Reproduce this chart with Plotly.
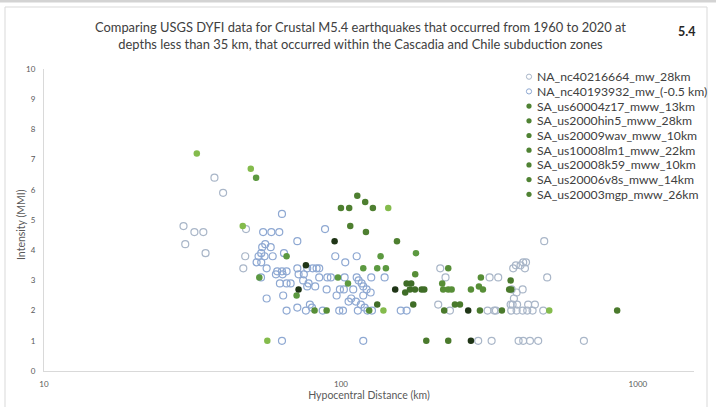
import plotly.graph_objects as go

# ---------------- data ----------------
series_names = [
    "NA_nc40216664_mw_28km",
    "NA_nc40193932_mw_(-0.5 km)",
    "SA_us60004z17_mww_13km",
    "SA_us2000hin5_mww_28km",
    "SA_us20009wav_mww_10km",
    "SA_us10008lm1_mww_22km",
    "SA_us20008k59_mww_10km",
    "SA_us20006v8s_mww_14km",
    "SA_us20003mgp_mww_26km",
]

# NA_nc40216664 (hypocentral distance km, MMI)
na1_dist = [29.5, 32.1, 34.4, 29.9, 35.0, 37.5, 40.1, 47.9, 47.6, 46.9,
            216, 225, 316.7, 212.6, 232.8, 311.8, 328.4, 289.9, 321.7, 483.7,
            411, 420, 402.7, 388.3, 380.3, 416.5, 338.6, 495, 409.2, 390.5,
            382.4, 378.5, 375.6, 332.6, 374.5, 390.5, 409.2, 424, 442, 480,
            372.8, 392, 427, 450, 396.6, 411, 433, 461.6, 658]
na1_mmi = [4.8, 4.6, 4.6, 4.2, 3.9, 6.4, 5.9, 4.7, 3.8, 3.4,
           3.4, 3.1, 3.1, 2.2, 2.0, 2.0, 2.0, 1.0, 1.0, 4.3,
           3.6, 3.6, 3.5, 3.5, 3.4, 3.4, 3.1, 3.1, 2.7, 2.6,
           2.4, 2.2, 2.7, 2.0, 2.0, 2.0, 2.0, 2.0, 2.0, 2.0,
           2.2, 2.2, 2.2, 2.2, 1.0, 1.0, 1.0, 1.0, 1.0]

# NA_nc40193932
na2_dist = [63.3, 54.7, 58.3, 62.0, 71.3, 88.4, 55.6, 54.3, 58.0, 53.9,
            52.8, 55.3, 58.9, 64.3, 52.0, 53.9, 56.2, 61.0, 63.3, 65.6,
            71.3, 77.0, 80.3, 82.8, 84.5, 95.7, 103.4, 113.0, 60.4, 63.6,
            72.0, 75.0, 62.3, 65.6, 67.7, 74.6, 77.8, 84.5, 90.0, 92.5,
            102.9, 113.0, 114.7, 126.5, 140.3, 89.5, 63.9, 56.2, 77.0, 81.9,
            96.7, 99.2, 102.3, 110.0, 118.9, 122.0, 108.3, 106.1, 118.9, 125.9,
            71.3, 65.6, 78.6, 79.9, 76.2, 86.8, 98.7, 101.6, 112.3, 116.7,
            120.2, 114.0, 122.8, 127.2, 159, 166.4, 63.3, 118.9, 117.4, 53.8]
na2_mmi = [5.2, 4.6, 4.6, 4.6, 4.3, 4.7, 4.2, 4.1, 4.1, 3.9,
           3.8, 3.8, 3.8, 3.9, 3.6, 3.6, 3.4, 3.3, 3.3, 3.3,
           3.4, 3.4, 3.4, 3.4, 3.4, 3.8, 3.6, 3.8, 3.2, 3.2,
           3.2, 3.2, 2.9, 2.9, 2.9, 3.0, 2.9, 3.1, 3.1, 3.1,
           3.1, 3.1, 3.0, 3.1, 3.1, 2.7, 2.5, 2.4, 2.8, 2.8,
           2.5, 2.7, 2.7, 2.7, 2.8, 2.7, 2.4, 2.3, 2.5, 2.6,
           2.1, 2.0, 2.2, 2.1, 2.0, 2.0, 2.0, 2.0, 2.3, 2.2,
           2.1, 2.0, 2.0, 2.0, 2.0, 2.0, 1.0, 1.0, 2.9, 3.1]

sa1_dist = [32.7, 49.7, 46.7, 56.5, 144.3, 139.0, 502.9]
sa1_mmi = [7.2, 6.7, 4.8, 1.0, 5.4, 2.0, 2.0]

sa2_dist = [113.5, 100.0, 106.6, 120.7, 128.1, 107.5, 121.4, 154.4]
sa2_mmi = [5.8, 5.4, 5.4, 5.6, 5.4, 4.8, 4.6, 4.3]

sa3_dist = [178.9, 65.6, 136.0, 118.9, 132.5, 141.7, 53.1, 97.7, 105.6, 70.9, 51.8]
sa3_mmi = [3.9, 3.8, 3.8, 3.4, 3.4, 3.4, 3.1, 3.1, 2.9, 2.5, 6.4]

sa4_dist = [166.4, 172.4, 164.6, 170.7, 177.5, 186.9, 190.8, 132.5, 175.2]
sa4_mmi = [2.9, 2.9, 2.6, 2.7, 2.7, 2.7, 2.7, 2.2, 2.2]

sa5_dist = [81.5, 89.5, 124.5, 229.8, 177.9, 296.0, 219.3, 221.0, 229.8, 235.9,
            274.0, 291.5, 300.7]
sa5_mmi = [2.0, 2.0, 2.0, 3.4, 3.2, 3.1, 2.9, 2.7, 2.7, 2.7,
           2.7, 2.8, 2.7]

sa6_dist = [95.2, 76.2, 72.0, 152.3, 268.3, 274.0]
sa6_mmi = [4.3, 3.5, 2.7, 2.7, 2.0, 1.0]

sa7_dist = [242.0, 251.6, 222.7, 293.8, 193.8, 229.8, 372.8, 368.7, 374.5, 348.4, 851.6]
sa7_mmi = [2.2, 2.2, 2.0, 2.0, 1.0, 1.0, 3.0, 2.7, 2.7, 2.0, 2.0]

x_tick_vals = [10, 100, 1000]
y_tick_vals = [0, 1, 2, 3, 4, 5, 6, 7, 8, 9, 10]

# ---------------- styling ----------------
FONT = "Lato"
hollow_colors = ["#A9B6C8", "#8EA8D2"]
green_colors = ["#84BB4C", "#4E7F30", "#5C9940", "#3F6D27", "#578E37", "#1F3516", "#4A7A2C"]
legend_green = "#4F8233"

W, H = 716, 407
L, R, T, B = 44, 22, 69, 36
PW, PH = W - L - R, H - T - B


def px_x(px):
    return (px - L) / PW


def px_y(py):
    return (H - B - py) / PH


fig = go.Figure()

hollow_sets = [(na1_dist, na1_mmi), (na2_dist, na2_mmi)]
for i, (d, m) in enumerate(hollow_sets):
    fig.add_trace(go.Scatter(
        x=d, y=m, mode="markers", name=series_names[i], showlegend=False,
        marker=dict(symbol="circle-open", size=7, color=hollow_colors[i],
                    line=dict(width=1.2, color=hollow_colors[i])),
    ))

filled_sets = [(sa1_dist, sa1_mmi), (sa2_dist, sa2_mmi), (sa3_dist, sa3_mmi),
               (sa4_dist, sa4_mmi), (sa5_dist, sa5_mmi), (sa6_dist, sa6_mmi),
               (sa7_dist, sa7_mmi)]
for j, (d, m) in enumerate(filled_sets):
    fig.add_trace(go.Scatter(
        x=d, y=m, mode="markers", name=series_names[j + 2], showlegend=False,
        marker=dict(symbol="circle", size=6.5, color=green_colors[j],
                    line=dict(width=0)),
    ))

shapes = []
annotations = []

# outer chart frame and top strip
shapes.append(dict(type="rect", xref="paper", yref="paper",
                   x0=px_x(-2), x1=px_x(720), y0=px_y(2.5), y1=px_y(-2),
                   fillcolor="#D3D3D3", line=dict(width=0), layer="below"))
shapes.append(dict(type="rect", xref="paper", yref="paper",
                   x0=px_x(5), x1=px_x(707), y0=px_y(412), y1=px_y(7),
                   fillcolor="rgba(0,0,0,0)", line=dict(color="#D9D9D9", width=1),
                   layer="below"))

# legend block
leg_top, leg_step = 76.7, 14.7
for k, name in enumerate(series_names):
    cy = leg_top + leg_step * k
    if k < 2:
        shapes.append(dict(type="circle", xref="paper", yref="paper",
                           xsizemode="pixel", ysizemode="pixel",
                           xanchor=px_x(529), yanchor=px_y(cy),
                           x0=-2.6, x1=2.6, y0=-2.6, y1=2.6,
                           fillcolor="white", line=dict(color=hollow_colors[k], width=1)))
    else:
        shapes.append(dict(type="circle", xref="paper", yref="paper",
                           xsizemode="pixel", ysizemode="pixel",
                           xanchor=px_x(529), yanchor=px_y(cy),
                           x0=-2.6, x1=2.6, y0=-2.6, y1=2.6,
                           fillcolor=legend_green, line=dict(width=0)))
    annotations.append(dict(text=name, xref="paper", yref="paper",
                            x=px_x(535), y=px_y(cy), xanchor="left", yanchor="middle",
                            showarrow=False,
                            font=dict(family=FONT, size=12.2, color="#404040")))

# title and badge
annotations.append(dict(
    text="Comparing USGS DYFI data for Crustal M5.4 earthquakes that occurred from 1960 to 2020 at"
         "<br>depths less than 35 km, that occurred within the Cascadia and Chile subduction zones",
    xref="paper", yref="paper", x=px_x(360), y=px_y(35), xanchor="center", yanchor="middle",
    showarrow=False, align="center",
    font=dict(family=FONT, size=12.9, color="#404040")))
annotations.append(dict(text="<b>5.4</b>", xref="paper", yref="paper",
                        x=px_x(686), y=px_y(31), xanchor="center", yanchor="middle",
                        showarrow=False, font=dict(family=FONT, size=12.5, color="#262626")))

# y-axis title
annotations.append(dict(text="Intensity (MMI)", xref="paper", yref="paper",
                        x=px_x(21), y=px_y(225), xanchor="center", yanchor="middle",
                        textangle=-90, showarrow=False,
                        font=dict(family=FONT, size=10.5, color="#595959")))

fig.update_layout(
    width=W, height=H,
    margin=dict(l=L, r=R, t=T, b=B, autoexpand=False),
    paper_bgcolor="white", plot_bgcolor="white",
    showlegend=False,
    shapes=shapes, annotations=annotations,
    font=dict(family=FONT, color="#595959"),
    xaxis=dict(
        type="log", range=[1, 3.189],
        tickvals=x_tick_vals, ticktext=[str(v) for v in x_tick_vals],
        showgrid=False, zeroline=False,
        showline=True, linecolor="#D9D9D9", linewidth=1,
        ticks="outside", ticklen=5, tickcolor="rgba(0,0,0,0)",
        tickfont=dict(family=FONT, size=8, color="#595959"),
        title=dict(text="Hypocentral Distance (km)", standoff=4,
                   font=dict(family=FONT, size=10.5, color="#595959")),
        automargin=False,
    ),
    yaxis=dict(
        range=[0, 10], tickvals=y_tick_vals,
        showgrid=False, zeroline=False,
        showline=True, linecolor="#D9D9D9", linewidth=1,
        ticks="outside", ticklen=6, tickcolor="rgba(0,0,0,0)",
        tickfont=dict(family=FONT, size=8, color="#595959"),
        automargin=False,
    ),
)

fig.write_html("out.html")
